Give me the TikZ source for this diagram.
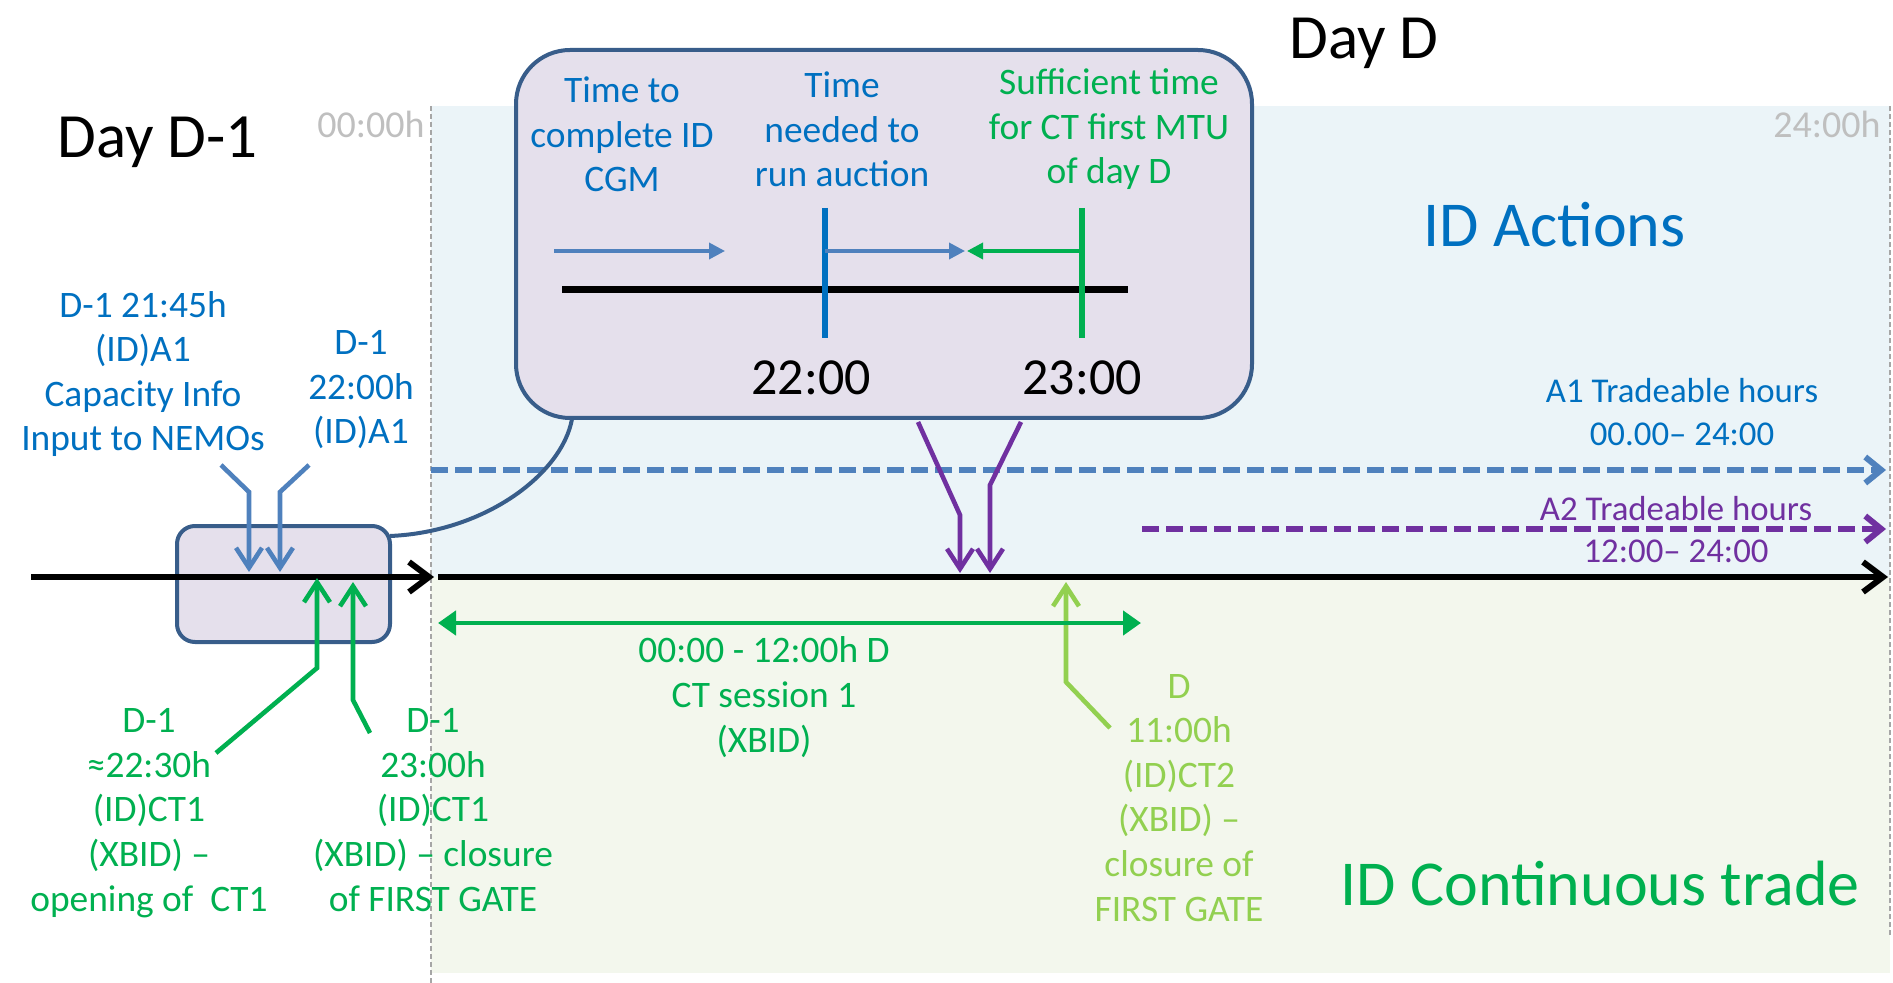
\documentclass[tikz,border=0pt]{standalone}
\usepackage{fontspec}
\setmainfont{Carlito}
\usetikzlibrary{arrows.meta}
\definecolor{txtblue}{HTML}{0070C0}
\definecolor{arrblue}{HTML}{4F81BD}
\definecolor{outline}{HTML}{385D8A}
\definecolor{boxfill}{HTML}{E5E0EC}
\definecolor{ctgreen}{HTML}{00B050}
\definecolor{ltgreen}{HTML}{92D050}
\definecolor{purp}{HTML}{7030A0}
\definecolor{bgblue}{HTML}{EBF4F8}
\definecolor{bggreen}{HTML}{F3F7ED}
\definecolor{hourgray}{HTML}{BFBFBF}

\begin{document}
\begin{tikzpicture}[x=0.5pt,y=-0.5pt,
  lbl/.style={align=center,font=\fontsize{18.7}{22.3}\selectfont,inner sep=0pt,anchor=base},
  small/.style={align=center,font=\fontsize{17.4}{21}\selectfont,inner sep=0pt,anchor=base},
  big/.style={font=\fontsize{32}{37}\selectfont,inner sep=0pt,anchor=base west},
  hour/.style={font=\fontsize{19}{22}\selectfont,text=hourgray,inner sep=0pt,anchor=base east},
  clock/.style={font=\fontsize{26}{30}\selectfont,inner sep=0pt,anchor=base},
  callout/.style={draw=outline,line width=2pt,fill=boxfill},
  axis/.style={line width=3pt,-{Straight Barb[length=10pt,width=15pt]}},
  pin/.style={line width=2.3pt,-{Straight Barb[length=10pt,width=13pt]}},
  span/.style={line width=2.4pt,{Triangle[length=9pt,width=12pt]}-{Triangle[length=9pt,width=12pt]}},
  tradeable/.style={line width=3pt,dash pattern=on 8.5pt off 3.5pt,-{Straight Barb[length=8pt,width=13pt]}},
  inner/.style={line width=1.8pt,-{Triangle[length=8pt,width=8pt]}},
  dayline/.style={draw=gray!70,line width=0.7pt,dash pattern=on 2.5pt off 1.5pt}]

\useasboundingbox (0,0) rectangle (1893,983);

% day D areas
\fill[bgblue] (431,106) rectangle (1890,577);
\fill[bggreen] (431,577) rectangle (1890,973);
\draw[dayline] (431,106) -- (431,983);
\draw[dayline] (1890,106) -- (1890,935);

% headings
\node[big,font=\fontsize{31.5}{37}\selectfont] (dprev) at (57,158) {Day D-1};
\node[big,font=\fontsize{31.5}{37}\selectfont] (dday) at (1289,59) {Day D};
\node[big,text=txtblue] (actions) at (1423,247) {ID Actions};
\node[big,text=ctgreen] (cont) at (1340,905) {ID Continuous trade};
\node[hour] (h0) at (425,138) {00:00h};
\node[hour] (h24) at (1881,138) {24:00h};

% tradeable hours
\coordinate (aOne0) at (431,470);
\coordinate (aOne1) at (1886,470);
\coordinate (aTwo0) at (1142,529);
\coordinate (aTwo1) at (1886,529);
\draw[tradeable,arrblue] (aOne0) -- (aOne1);
\draw[tradeable,purp] (aTwo0) -- (aTwo1);
\node[small,text=txtblue] (aOnelbl) at (1682,445) {A1 Tradeable hours\\00.00– 24:00};
\node[small,text=purp] (aTwolbl) at (1676,562) {A2 Tradeable hours\\12:00– 24:00};

% small box and main time axis
\node[callout,rounded corners=9pt,minimum width=106.5pt,minimum height=58pt] (sbox) at (283.5,584) {};
\coordinate (ax0) at (31,577);
\coordinate (ax1) at (434,577);
\coordinate (ax2) at (438,577);
\coordinate (ax3) at (1888,577);
\draw[axis] (ax0) -- (ax1);
\draw[axis] (ax2) -- (ax3);

% zoomed box
\node[callout,rounded corners=27pt,minimum width=368pt,minimum height=184pt] (bbox) at (884,234) {};
\coordinate (cL) at (390,536);
\coordinate (cB) at (572,419);
\draw[outline,line width=2pt] (cL) .. controls (485,532) and (562,474) .. (cB);

\node[lbl,text=txtblue] (tCGM) at (622,192) {Time to\\complete ID\\CGM};
\node[lbl,text=txtblue] (tAuc) at (842,187) {Time\\needed to\\run auction};
\node[lbl,text=ctgreen] (tMTU) at (1109,184) {Sufficient time\\for CT first MTU\\of day D};
\coordinate (iA0) at (554,251);
\coordinate (iA1) at (725,251);
\coordinate (iL0) at (562,290);
\coordinate (iL1) at (1128,290);
\coordinate (tk1a) at (825,208);
\coordinate (tk1b) at (825,338);
\coordinate (tk2a) at (1082,208);
\coordinate (tk2b) at (1082,338);
\coordinate (iB1) at (965,251);
\coordinate (iG1) at (967,251);
\draw[line width=3.5pt] (iL0) -- (iL1);
\draw[txtblue,line width=3pt] (tk1a) -- (tk1b);
\draw[ctgreen,line width=3pt] (tk2a) -- (tk2b);
\draw[inner,arrblue] (iA0) -- (iA1);
\draw[inner,arrblue] (tk1a |- iA0) -- (iB1);
\draw[inner,ctgreen] (tk2a |- iA0) -- (iG1);
\node[clock] (c22) at (811,395) {22:00};
\node[clock] (c23) at (1082,395) {23:00};

% pins from the labels to the axis
\coordinate (bp1) at (221,465);
\coordinate (bk1) at (249,492);
\coordinate (bt1) at (249,572);
\coordinate (bp2) at (309,465);
\coordinate (bk2) at (280,492);
\coordinate (bt2) at (280,572);
\draw[pin,arrblue] (bp1) -- (bk1) -- (bt1);
\draw[pin,arrblue] (bp2) -- (bk2) -- (bt2);

\coordinate (gp1) at (216,753);
\coordinate (gk1) at (317,668);
\coordinate (gt1) at (317,578);
\coordinate (gp2) at (370,733);
\coordinate (gk2) at (353,700);
\coordinate (gt2) at (353,582);
\draw[pin,ctgreen] (gp1) -- (gk1) -- (gt1);
\draw[pin,ctgreen] (gp2) -- (gk2) -- (gt2);

\coordinate (pp1) at (918,422);
\coordinate (pk1) at (960,515);
\coordinate (pt1) at (960,573);
\coordinate (pp2) at (1021,422);
\coordinate (pk2) at (990,485);
\coordinate (pt2) at (990,573);
\draw[pin,purp] (pp1) -- (pk1) -- (pt1);
\draw[pin,purp] (pp2) -- (pk2) -- (pt2);

\coordinate (lp) at (1110,728);
\coordinate (lk) at (1066,682);
\coordinate (lt) at (1066,582);
\draw[pin,ltgreen] (lp) -- (lk) -- (lt);

\coordinate (s0) at (438,623);
\coordinate (s1) at (1141,623);
\draw[span,ctgreen] (s0) -- (s1);

% labels
\node[lbl,text=txtblue] (capinfo) at (143,451) {D-1 21:45h\\(ID)A1\\Capacity Info\\Input to NEMOs};
\node[lbl,text=txtblue] (aone) at (361,444) {D-1\\22:00h\\(ID)A1};
\node[lbl,text=ctgreen] (ctopen) at (149,911) {D-1\\≈22:30h\\(ID)CT1\\(XBID) –\\opening of~ CT1};
\node[lbl,text=ctgreen] (ctclose) at (433,911) {D-1\\23:00h\\(ID)CT1\\(XBID) – closure\\of FIRST GATE};
\node[lbl,text=ctgreen] (sess) at (764,752) {00:00 - 12:00h D\\CT session 1\\(XBID)};
\node[lbl,text=ltgreen] (cttwo) at (1179,921) {D\\11:00h\\(ID)CT2\\(XBID) –\\closure of\\FIRST GATE};
\end{tikzpicture}
\end{document}
